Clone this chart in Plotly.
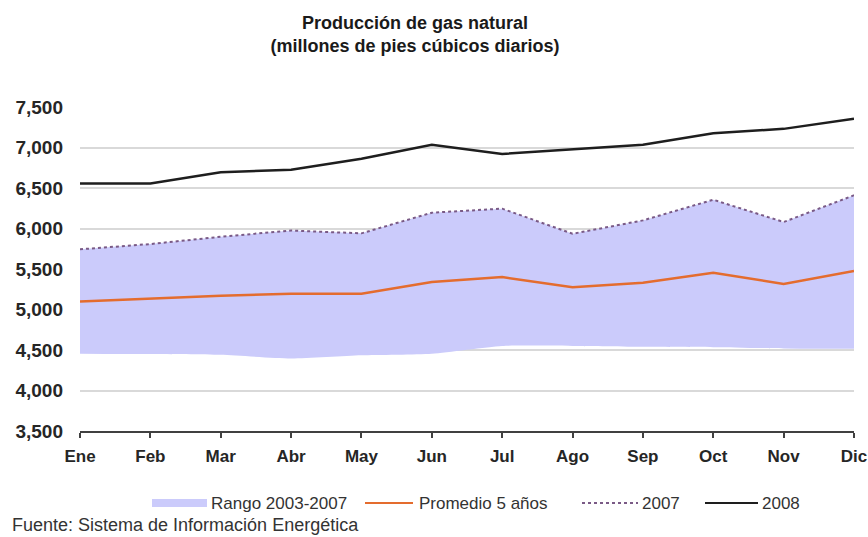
import plotly.graph_objects as go

meses = ["Ene", "Feb", "Mar", "Abr", "May", "Jun", "Jul", "Ago", "Sep", "Oct", "Nov", "Dic"]
rango_min = [4455, 4450, 4440, 4395, 4435, 4455, 4550, 4550, 4540, 4535, 4520, 4515]
rango_max = [5743, 5808, 5898, 5975, 5940, 6195, 6245, 5935, 6100, 6355, 6080, 6410]
promedio_5 = [5100, 5135, 5170, 5195, 5195, 5340, 5400, 5275, 5330, 5455, 5315, 5475]
serie_2007 = [5743, 5808, 5898, 5975, 5940, 6195, 6245, 5935, 6100, 6355, 6080, 6410]
serie_2008 = [6555, 6555, 6695, 6725, 6860, 7035, 6920, 6980, 7035, 7175, 7230, 7355]
y_ticks = [3500, 4000, 4500, 5000, 5500, 6000, 6500, 7000, 7500]

FONT = "Liberation Sans, Arial, sans-serif"
W, H = 868, 537
L, R, T, B = 80, 14, 107, 106
pw, ph = W - L - R, H - T - B

C_RANGO = "#CBCBFB"
C_PROM = "#E46C2E"
C_2007 = "#7A5A86"
C_2008 = "#1E1E1E"

def px_x(x):
    return (x - L) / pw

def px_y(y):
    return (H - B - y) / ph

fig = go.Figure()
fig.add_trace(go.Scatter(x=meses, y=rango_min, mode="lines", line=dict(width=0, shape="spline", smoothing=0.6),
                         showlegend=False, hoverinfo="skip"))
fig.add_trace(go.Scatter(x=meses, y=rango_max, mode="lines", line=dict(width=0), fill="tonexty",
                         fillcolor=C_RANGO, name="Rango 2003-2007", showlegend=False))
fig.add_trace(go.Scatter(x=meses, y=promedio_5, mode="lines", line=dict(color=C_PROM, width=2.5),
                         name="Promedio 5 años", showlegend=False))
fig.add_trace(go.Scatter(x=meses, y=serie_2007, mode="lines", line=dict(color=C_2007, width=2, dash="dot"),
                         name="2007", showlegend=False))
fig.add_trace(go.Scatter(x=meses, y=serie_2008, mode="lines", line=dict(color=C_2008, width=2.5),
                         name="2008", showlegend=False))

fig.update_layout(
    width=W, height=H,
    margin=dict(l=L, r=R, t=T, b=B, pad=0, autoexpand=False),
    paper_bgcolor="white", plot_bgcolor="white",
    font=dict(family=FONT, color="#222222"),
    title=dict(text="Producción de gas natural<br>(millones de pies cúbicos diarios)",
               font=dict(family=FONT, size=18, color="#1a1a1a", weight="bold"),
               x=415 / W, xanchor="center", xref="container",
               y=1 - 29 / H, yanchor="top", yref="container"),
    xaxis=dict(type="category", range=[0, 11], showgrid=False, zeroline=False, automargin=False,
               showline=True, linecolor="#404040", linewidth=2,
               ticks="outside", ticklen=5, tickwidth=1.5, tickcolor="#404040",
               tickfont=dict(family=FONT, size=17, color="#262626", weight="bold"),
               ticklabelstandoff=4),
    yaxis=dict(range=[3500, 7500], tickvals=y_ticks, tickformat=",.0f", automargin=False,
               showgrid=True, gridcolor="#D9D9D9", gridwidth=1.5, zeroline=False,
               showline=False, ticks="",
               tickfont=dict(family=FONT, size=19, color="#262626", weight="bold"),
               ticklabelstandoff=16),
    showlegend=False,
)

# legend drawn manually
ly = px_y(503)
legend_items = [
    ("rect", 152, 207, C_RANGO, None, "Rango 2003-2007", 209),
    ("line", 365, 413, C_PROM, "solid", "Promedio 5 años", 417),
    ("line", 582, 638, C_2007, "dot", "2007", 640),
    ("line", 705, 758, C_2008, "solid", "2008", 760),
]
for kind, x0, x1, col, dash, label, tx in legend_items:
    if kind == "rect":
        fig.add_shape(type="rect", xref="paper", yref="paper", x0=px_x(x0), x1=px_x(x1),
                      y0=px_y(507), y1=px_y(499), fillcolor=col, line=dict(width=0))
    else:
        fig.add_shape(type="line", xref="paper", yref="paper", x0=px_x(x0), x1=px_x(x1),
                      y0=ly, y1=ly, line=dict(color=col, width=1.8, dash=dash))
    fig.add_annotation(text=label, xref="paper", yref="paper", x=px_x(tx), y=ly,
                       xanchor="left", yanchor="middle", showarrow=False,
                       font=dict(family=FONT, size=17, color="#333333"))

fig.add_annotation(text="Fuente: Sistema de Información Energética", xref="paper", yref="paper",
                   x=px_x(10), y=px_y(525), xanchor="left", yanchor="middle", showarrow=False,
                   font=dict(family=FONT, size=18, color="#333333"))

fig.write_html("out.html", config={"displayModeBar": False},
               post_script="document.body.style.margin='0';document.body.style.overflow='hidden';")
